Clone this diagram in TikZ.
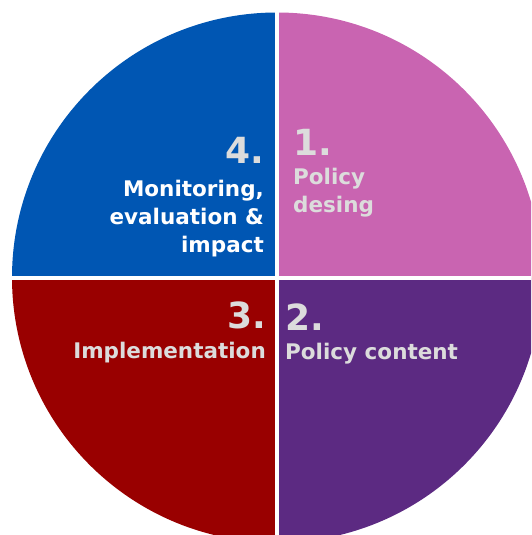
\documentclass[tikz,border=0pt]{standalone}
\usepackage{fontspec}
\setmainfont{DejaVu Sans}
\definecolor{bluequad}{HTML}{0056B3}
\definecolor{pinkquad}{HTML}{C964B1}
\definecolor{redquad}{HTML}{990000}
\definecolor{purplequad}{HTML}{5C2A82}
\definecolor{softgray}{HTML}{DCDCDC}
\begin{document}
\begin{tikzpicture}[x=1pt,y=-1pt,
  stage/.style={font=\bfseries\fontsize{21.5}{28}\selectfont, inner sep=0pt},
  num/.style={font=\bfseries\fontsize{36}{36}\selectfont, inner sep=0pt, text=softgray}]
\useasboundingbox (0,0) rectangle (531,535);
\clip (0,0) rectangle (531,535);
\coordinate (c) at (277,277.5);
% four quarters of the cycle
\fill[pinkquad]   (c) -- ++(0,-265) arc[start angle=-90,end angle=0,radius=265] -- cycle;
\fill[purplequad] (c) -- ++(265,0) arc[start angle=0,end angle=90,radius=265] -- cycle;
\fill[redquad]    (c) -- ++(0,265) arc[start angle=90,end angle=180,radius=265] -- cycle;
\fill[bluequad]   (c) -- ++(-265,0) arc[start angle=180,end angle=270,radius=265] -- cycle;
% white separators
\draw[white, line width=4pt] (277,0) -- (277,535);
\draw[white, line width=4pt] (0,277.5) -- (531,277.5);
% stage labels (multi-line labels sit on the baseline of their last line)
\node[num, anchor=base east] (n4) at (264,163) {4.};
\node[stage, text=white, align=right, anchor=base east] (t4) at (264,252) {Monitoring,\\evaluation \&\\impact};
\node[num, anchor=base west] (n1) at (293,155) {1.};
\node[stage, text=softgray, align=left, anchor=base west] (t1) at (293,212) {Policy\\desing};
\node[num, anchor=base east] (n3) at (266,328) {3.};
\node[stage, text=softgray, anchor=base east] (t3) at (266,358) {Implementation};
\node[num, anchor=base west] (n2) at (285,330) {2.};
\node[stage, text=softgray, anchor=base west] (t2) at (285,359) {Policy content};
\end{tikzpicture}
\end{document}
